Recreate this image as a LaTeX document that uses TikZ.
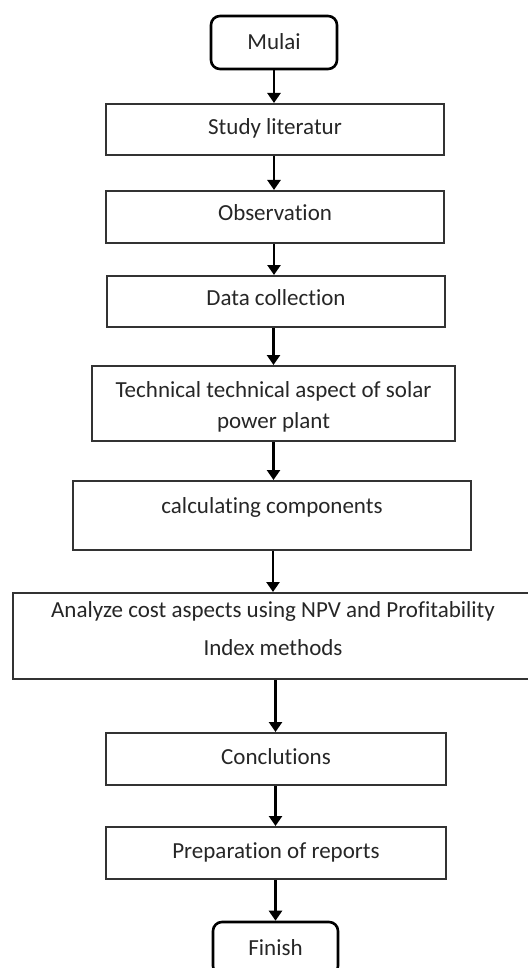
\documentclass[tikz,border=0pt]{standalone}
\usepackage{fontspec}
\setmainfont{Carlito}[Ligatures=NoCommon]
\usetikzlibrary{arrows.meta}
\definecolor{boxline}{HTML}{333333}
\definecolor{txtcol}{HTML}{262626}
\tikzset{
  box/.style={draw=boxline, line width=2pt, inner sep=0pt},
  term/.style={draw=black, line width=2.6pt, rounded corners=9pt, inner sep=0pt},
  txt/.style={anchor=base, inner sep=0pt, text=txtcol, font=\fontsize{23}{28}\selectfont},
  arr/.style={draw=black, line width=2.6pt, -{Triangle[width=13pt,length=10pt]}}
}
\begin{document}
\begin{tikzpicture}[x=1pt,y=-1pt]
\path[use as bounding box] (0,0) rectangle (527,968);
% boxes
\node[term, minimum width=126pt, minimum height=53pt] (mulai) at (274,42.5) {};
\node[box, minimum width=338pt, minimum height=51pt] (study) at (275,129.5) {};
\node[box, minimum width=338pt, minimum height=52pt] (obs) at (275,217) {};
\node[box, minimum width=338pt, minimum height=51pt] (data) at (276,301.5) {};
\node[box, minimum width=363pt, minimum height=75pt] (tech) at (273.5,403.5) {};
\node[box, minimum width=398pt, minimum height=69pt] (calc) at (272,515.5) {};
\node[box, minimum width=520pt, minimum height=86pt] (anal) at (273,636) {};
\node[box, minimum width=340pt, minimum height=52pt] (concl) at (276,759) {};
\node[box, minimum width=340pt, minimum height=52pt] (prep) at (276,853) {};
\node[term, minimum width=125pt, minimum height=53pt] (finish) at (275.5,948.5) {};
% texts
\node[txt] (tmulai) at (274,50) {Mulai};
\node[txt] (tstudy) at (275,135) {Study literatur};
\node[txt] (tobs) at (275,221) {Observation};
\node[txt] (tdata) at (276,305) {Data collection};
\node[txt] (ttech1) at (273.5,397) {Technical technical aspect of solar};
\node[txt] (ttech2) at (273.5,428) {power plant};
\node[txt] (tcalc) at (272,513) {calculating components};
\node[txt] (tanal1) at (273,617) {Analyze cost aspects using NPV and Profitability};
\node[txt] (tanal2) at (273,655) {Index methods};
\node[txt] (tconcl) at (276,764) {Conclutions};
\node[txt] (tprep) at (276,858) {Preparation of reports};
\node[txt] (tfinish) at (275.5,955) {Finish};
% arrows
\draw[arr] (mulai.south) -- (mulai.south |- study.north);
\draw[arr] (mulai.south |- study.south) -- (mulai.south |- obs.north);
\draw[arr] (mulai.south |- obs.south) -- (mulai.south |- data.north);
\draw[arr] (tech.north |- data.south) -- (tech.north);
\draw[arr] (tech.south) -- (tech.south |- calc.north);
\draw[arr] (anal.north |- calc.south) -- (anal.north);
\draw[arr] (finish.north |- anal.south) -- (finish.north |- concl.north);
\draw[arr] (finish.north |- concl.south) -- (finish.north |- prep.north);
\draw[arr] (finish.north |- prep.south) -- (finish.north);
\end{tikzpicture}
\end{document}
